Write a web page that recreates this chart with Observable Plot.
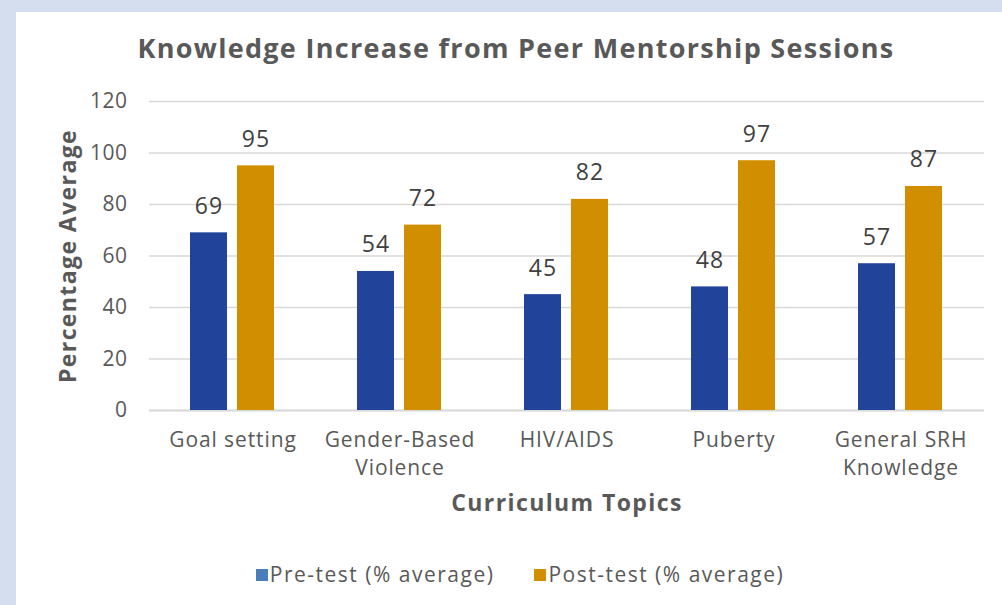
<!DOCTYPE html>
<html>
<head>
<meta charset="utf-8">
<script src="https://cdn.jsdelivr.net/npm/d3@7"></script>
<script src="https://cdn.jsdelivr.net/npm/@observablehq/plot@0.6"></script>
<style>
  html, body { margin: 0; padding: 0; }
  body { width: 1002px; height: 605px; background: #d4deee; position: relative; overflow: hidden; font-family: "Open Sans", sans-serif; }
  #panel { position: absolute; left: 16px; top: 12px; width: 986px; height: 593px; background: #ffffff; }
  #title { position: absolute; left: 0; top: 31px; width: 1032px; text-align: center; font-size: 27px; letter-spacing: 1.3px; font-weight: 700; color: #595959; line-height: 34px; }
  #chart { position: absolute; left: 0; top: 0; }
  #legend { position: absolute; left: 0; top: 560px; width: 1040px; text-align: center; font-size: 21px; letter-spacing: 1.5px; color: #595959; line-height: 28px; }
  .item { display: inline-block; margin: 0 20px; }
  .sw { display: inline-block; width: 12px; height: 12px; margin-right: 2px; vertical-align: 1px; }
  #chart svg [aria-label="y-axis label"], #chart svg [aria-label="fx-axis label"] { font-weight: 700; font-size: 23px; letter-spacing: 1.4px; }
  #chart svg [aria-label="y-axis tick label"] { letter-spacing: 0.5px; }
  #chart svg [aria-label="fx-axis tick label"] { letter-spacing: 0.9px; }
  #chart svg [aria-label="text"] { letter-spacing: 1px; }
</style>
</head>
<body>
<div id="panel"></div>
<div id="title">Knowledge Increase from Peer Mentorship Sessions</div>
<div id="chart"></div>
<div id="legend"></div>
<script>
const categories = ["Goal setting", "Gender-Based Violence", "HIV/AIDS", "Puberty", "General SRH Knowledge"];
const tickLabels = ["Goal setting", "Gender-Based\nViolence", "HIV/AIDS", "Puberty", "General SRH\nKnowledge"];
const series = ["Pre-test (% average)", "Post-test (% average)"];
const preTest = [69, 54, 45, 48, 57];
const postTest = [95, 72, 82, 97, 87];
const yTicks = [0, 20, 40, 60, 80, 100, 120];
const barColors = ["#21449a", "#d18f00"];
const swatchColors = ["#4a7ebb", "#d18f00"];

const data = [];
categories.forEach((c, i) => {
  data.push({cat: c, series: series[0], value: preTest[i]});
  data.push({cat: c, series: series[1], value: postTest[i]});
});

const chart = Plot.plot({
  width: 1002,
  height: 530,
  marginLeft: 147,
  marginRight: 16,
  marginTop: 101,
  marginBottom: 120,
  style: {fontFamily: "'Open Sans', sans-serif", fontSize: "21px", color: "#595959", background: "transparent", overflow: "visible"},
  fx: {domain: categories, paddingInner: 0, paddingOuter: 0},
  x: {domain: series, paddingInner: 0.208, paddingOuter: 0.852, axis: null},
  y: {domain: [0, 120]},
  color: {domain: series, range: barColors},
  marks: [
    Plot.gridY(yTicks, {stroke: "#d9d9d9", strokeOpacity: 1, strokeWidth: 1.5}),
    Plot.ruleY([0], {stroke: "#d9d9d9", strokeWidth: 2}),
    Plot.barY(data, {fx: "cat", x: "series", y: "value", fill: "series"}),
    Plot.text(data, {fx: "cat", x: "series", y: "value", text: d => String(d.value), lineAnchor: "bottom", dy: -19, fontSize: 23, fill: "#404040"}),
    Plot.axisY(yTicks, {tickSize: 0, tickPadding: 22, label: "Percentage Average", labelArrow: "none", labelAnchor: "center", labelOffset: 90, fontSize: 21, fill: "#595959"}),
    Plot.axisFx({anchor: "bottom", tickSize: 0, tickPadding: 16, tickFormat: d => tickLabels[categories.indexOf(d)], lineHeight: 1.35, label: "Curriculum Topics", labelArrow: "none", labelAnchor: "center", labelOffset: 100, fontSize: 21, fill: "#595959"})
  ]
});
document.getElementById("chart").appendChild(chart);

const legend = document.getElementById("legend");
series.forEach((s, i) => {
  const item = document.createElement("span");
  item.className = "item";
  const sw = document.createElement("span");
  sw.className = "sw";
  sw.style.background = swatchColors[i];
  item.appendChild(sw);
  item.appendChild(document.createTextNode(s));
  legend.appendChild(item);
});
</script>
</body>
</html>
